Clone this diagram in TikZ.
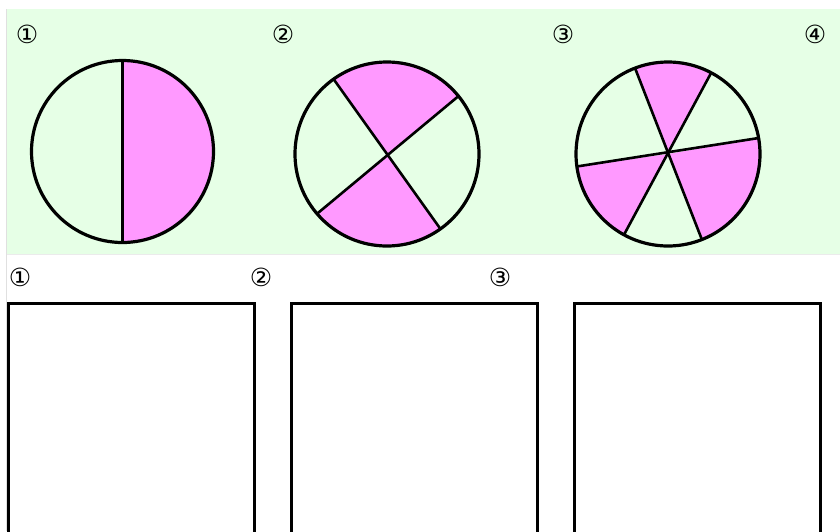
\documentclass[tikz,border=0pt]{standalone}
\usepackage{fontspec}
\newfontfamily\dv{DejaVu Sans}
\definecolor{bgreen}{HTML}{E6FFE6}
\definecolor{ppink}{HTML}{FF99FF}
\begin{document}
\begin{tikzpicture}[x=1pt,y=-1pt,
  lbl/.style={font=\dv\fontsize{25}{25}\selectfont, inner sep=0pt},
  rim/.style={draw=black, line width=3.2pt},
  cut/.style={draw=black, line width=2.6pt},
  sector/.style={fill=ppink},
  box/.style={draw=black, line width=3pt}]
\useasboundingbox (0,0) rectangle (840,531);
\fill[white] (0,0) rectangle (840,531);
\fill[bgreen] (7,9) rectangle (840,254);
\draw[black!12, line width=0.8pt] (6.5,9) -- (6.5,531);
\draw[black!8, line width=0.8pt] (7,254.5) -- (840,254.5);
% labels top
\node[lbl] (t1) at (27,34) {①};
\node[lbl] (t2) at (283,34) {②};
\node[lbl] (t3) at (563,34) {③};
\node[lbl] (t4) at (815,34) {④};
% labels bottom
\node[lbl] (b1) at (20,277) {①};
\node[lbl] (b2) at (261,277) {②};
\node[lbl] (b3) at (500,277) {③};
% circle 1
\begin{scope}[shift={(122.5,151.5)}, yscale=-1]
  \fill[sector] (0,0) -- (90:91) arc (90:-90:91) -- cycle;
  \draw[cut] (90:91) -- (-90:91);
  \draw[rim] (0,0) circle (91);
\end{scope}
% circle 2
\begin{scope}[shift={(387,154)}, yscale=-1]
  \fill[sector] (0,0) -- (39:92) arc (39:125.5:92) -- cycle;
  \fill[sector] (0,0) -- (220.5:92) arc (220.5:305.5:92) -- cycle;
  \draw[cut] (125.5:92) -- (305.5:92);
  \draw[cut] (39:92) -- (220.5:92);
  \draw[rim] (0,0) circle (92);
\end{scope}
% circle 3
\begin{scope}[shift={(668,154)}, yscale=-1]
  \fill[sector] (0,0) -- (62:92) arc (62:111:92) -- cycle;
  \fill[sector] (0,0) -- (187.8:92) arc (187.8:241.4:92) -- cycle;
  \fill[sector] (0,0) -- (291.6:92) arc (291.6:370:92) -- cycle;
  \draw[cut] (111:92) -- (291.6:92);
  \draw[cut] (62:92) -- (241.4:92);
  \draw[cut] (187.8:92) -- (10:92);
  \draw[rim] (0,0) circle (92);
\end{scope}
% boxes (open at the bottom edge of the picture)
\draw[box] (8.5,540) -- (8.5,303.5) -- (254.5,303.5) -- (254.5,540);
\draw[box] (291,540) -- (291,303.5) -- (537,303.5) -- (537,540);
\draw[box] (574,540) -- (574,303.5) -- (820,303.5) -- (820,540);
\end{tikzpicture}
\end{document}
